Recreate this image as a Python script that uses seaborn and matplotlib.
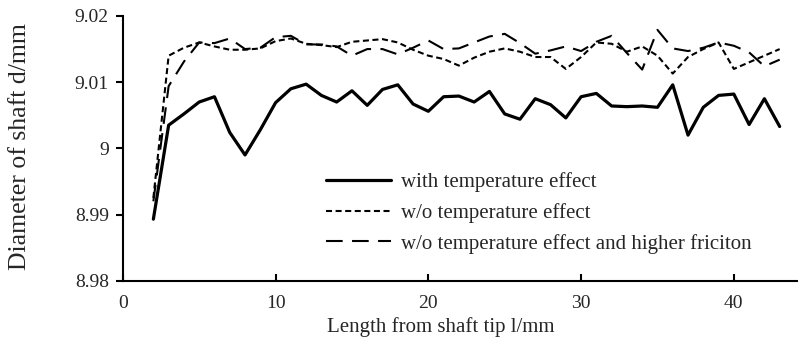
import numpy as np
import pandas as pd
import matplotlib
matplotlib.use("Agg")
import matplotlib.pyplot as plt
import seaborn as sns

# length from shaft tip (mm)
length_mm = list(range(2, 44))

with_temp = [8.9893, 9.0035, 9.0052, 9.0070, 9.0078, 9.0024, 8.9990, 9.0028, 9.0069, 9.0090,
             9.0097, 9.0080, 9.0070, 9.0087, 9.0065, 9.0089, 9.0096, 9.0067, 9.0056, 9.0078,
             9.0079, 9.0070, 9.0086, 9.0052, 9.0044, 9.0075, 9.0066, 9.0046, 9.0078, 9.0083,
             9.0064, 9.0063, 9.0064, 9.0062, 9.0096, 9.0020, 9.0062, 9.0080, 9.0082, 9.0036,
             9.0075, 9.0033]

wo_temp = [8.9925, 9.0140, 9.0152, 9.0160, 9.0154, 9.0149, 9.0149, 9.0151, 9.0162, 9.0166,
           9.0158, 9.0156, 9.0153, 9.0161, 9.0163, 9.0165, 9.0160, 9.0149, 9.0140, 9.0135,
           9.0125, 9.0137, 9.0146, 9.0151, 9.0146, 9.0138, 9.0138, 9.0120, 9.0138, 9.0160,
           9.0158, 9.0146, 9.0154, 9.0140, 9.0113, 9.0138, 9.0150, 9.0160, 9.0120, 9.0130,
           9.0140, 9.0150]

wo_temp_friction = [8.9920, 9.0094, 9.0131, 9.0160, 9.0159, 9.0166, 9.0150, 9.0152, 9.0168, 9.0170,
                    9.0157, 9.0157, 9.0154, 9.0140, 9.0150, 9.0150, 9.0142, 9.0152, 9.0163, 9.0150,
                    9.0151, 9.0160, 9.0169, 9.0173, 9.0159, 9.0143, 9.0148, 9.0154, 9.0147, 9.0161,
                    9.0170, 9.0144, 9.0119, 9.0179, 9.0151, 9.0147, 9.0152, 9.0160, 9.0155, 9.0145,
                    9.0124, 9.0134]

series_names = ["with temperature effect",
                "w/o temperature effect",
                "w/o temperature effect and higher friciton"]

x_ticks = [0, 10, 20, 30, 40]
y_ticks = [8.98, 8.99, 9.00, 9.01, 9.02]
y_tick_labels = ["8.98", "8.99", "9", "9.01", "9.02"]

df = pd.DataFrame({"length": length_mm,
                   series_names[0]: with_temp,
                   series_names[1]: wo_temp,
                   series_names[2]: wo_temp_friction})

sns.set_style("ticks")
plt.rcParams["font.family"] = ["Liberation Serif", "DejaVu Serif"]

fig = plt.figure(figsize=(7.98, 3.46), dpi=100)
ax = fig.add_axes([0.1539, 0.1887, 0.8461, 0.7651])

styles = [("-", 2.3), ((0, (2.9, 1.7)), 1.5), ((0, (8.0, 4.5)), 1.5)]
for name, (ls, lw) in zip(series_names, styles):
    sns.lineplot(data=df, x="length", y=name, ax=ax, color="black",
                 linestyle=ls, linewidth=lw, label=name)

ax.set_xlim(0, 44.2)
ax.set_ylim(8.98, 9.02)
ax.set_xticks(x_ticks)
ax.set_yticks(y_ticks)
ax.set_yticklabels(y_tick_labels)
ax.tick_params(axis="x", direction="in", length=5, width=1.5, labelsize=14, pad=10, color="black")
ax.tick_params(axis="y", direction="out", length=5, width=1.5, labelsize=14, pad=5, color="black")
for s in ["left", "bottom"]:
    ax.spines[s].set_linewidth(1.5)
    ax.spines[s].set_color("black")
sns.despine(ax=ax)

ax.set_xlabel("Length from shaft tip l/mm", fontsize=15)
ax.set_ylabel("Diameter of shaft d/mm", fontsize=18.5)
ax.xaxis.set_label_coords(0.471, -0.137)
ax.yaxis.set_label_coords(-0.1365, 0.505)

ax.legend(frameon=False, loc="upper left", bbox_to_anchor=(0.4085, 0.503),
          bbox_transform=fig.transFigure, borderpad=0, borderaxespad=0, fontsize=15,
          handlelength=3.1, handletextpad=0.5, labelspacing=0.53)

fig.savefig("out.png", dpi=100)
